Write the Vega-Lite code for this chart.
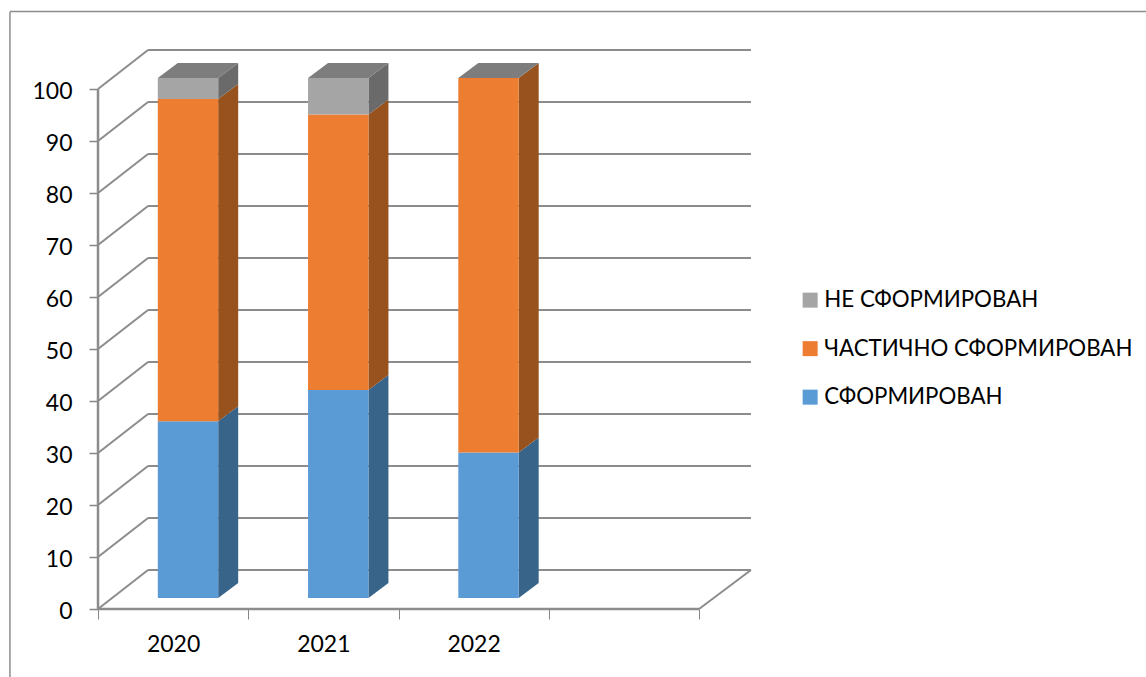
{
"$schema":"https://vega.github.io/schema/vega-lite/v6.json",
"width":653,"height":559,
"autosize":{"type":"none"},
"padding":{"left":98,"top":50,"right":395,"bottom":68},
"background":"white",
"config":{"view":{"stroke":null},"font":"Lato"},
"datasets":{
"bars":[
{"year":2020,"status":"СФОРМИРОВАН","rank":1,"value":34},
{"year":2020,"status":"ЧАСТИЧНО СФОРМИРОВАН","rank":2,"value":62},
{"year":2020,"status":"НЕ СФОРМИРОВАН","rank":3,"value":4},
{"year":2021,"status":"СФОРМИРОВАН","rank":1,"value":40},
{"year":2021,"status":"ЧАСТИЧНО СФОРМИРОВАН","rank":2,"value":53},
{"year":2021,"status":"НЕ СФОРМИРОВАН","rank":3,"value":7},
{"year":2022,"status":"СФОРМИРОВАН","rank":1,"value":28},
{"year":2022,"status":"ЧАСТИЧНО СФОРМИРОВАН","rank":2,"value":72},
{"year":2022,"status":"НЕ СФОРМИРОВАН","rank":3,"value":0}
],
"ticks":[{"tick":0},{"tick":10},{"tick":20},{"tick":30},{"tick":40},{"tick":50},{"tick":60},{"tick":70},{"tick":80},{"tick":90},{"tick":100}],
"one":[{"n":1}]
},
"resolve":{"axis":{"x":"independent","y":"independent"},"scale":{"color":"independent"}},
"layer":[
{"data":{"name":"one"},"mark":{"type":"rule","stroke":"#8c8c8c","strokeWidth":1.5},
 "encoding":{"x":{"datum":-0.586,"type":"quantitative","scale":{"domain":[0,4.346],"nice":false,"zero":false},"axis":{"orient":"bottom","values":[0,1,2,3,4],"labels":false,"title":null,"domain":false,"grid":false,"ticks":true,"tickSize":10,"tickColor":"#868686","tickWidth":1}},
 "y":{"datum":114.8,"type":"quantitative","scale":{"domain":[0,107.5],"nice":false,"zero":false},"axis":{"orient":"left","values":[0,10,20,30,40,50,60,70,80,90,100],"title":null,"domain":false,"grid":false,"tickSize":9,"tickColor":"#868686","tickWidth":1.5,"labelPadding":17,"labelOffset":2,"labelFontSize":23,"labelColor":"#000000","labelFont":"Lato","labelOverlap":false}},
 "y2":{"datum":-13.1}}},
{"data":{"name":"one"},"mark":{"type":"rule","stroke":"#8c8c8c","strokeWidth":1.5},
 "encoding":{"x":{"datum":-0.586,"type":"quantitative","axis":{"orient":"bottom","values":[0.5,1.5,2.5],"labelExpr":"format(2019.5+datum.value,'d')","title":null,"domain":false,"grid":false,"ticks":false,"labelPadding":24,"labelFontSize":23,"labelColor":"#000000","labelFont":"Lato","labelOverlap":false}},"x2":{"datum":6.975},"y":{"datum":114.9,"type":"quantitative","axis":null}}},
{"data":{"name":"ticks"},"transform":[{"calculate":"datum.tick+7.5","as":"back"}],"mark":{"type":"rule","stroke":"#8c8c8c","strokeWidth":2},
 "encoding":{"x":{"datum":0,"type":"quantitative","axis":null},"x2":{"datum":0.333},"y":{"field":"tick","type":"quantitative","axis":null},"y2":{"field":"back"}}},
{"data":{"name":"ticks"},"transform":[{"calculate":"datum.tick+7.5","as":"back"}],"mark":{"type":"rule","stroke":"#8c8c8c","strokeWidth":2},
 "encoding":{"x":{"datum":0.333,"type":"quantitative","axis":null},"x2":{"datum":4.346},"y":{"field":"back","type":"quantitative","axis":null}}},
{"data":{"name":"one"},"mark":{"type":"rule","stroke":"#8c8c8c","strokeWidth":2.5},
 "encoding":{"x":{"datum":0,"type":"quantitative","axis":null},"y":{"datum":0,"type":"quantitative","axis":null},"y2":{"datum":100}}},
{"data":{"name":"one"},"mark":{"type":"rule","stroke":"#8c8c8c","strokeWidth":2.5},
 "encoding":{"x":{"datum":0,"type":"quantitative","axis":null},"x2":{"datum":4},"y":{"datum":0,"type":"quantitative","axis":null}}},
{"data":{"name":"one"},"mark":{"type":"rule","stroke":"#8c8c8c","strokeWidth":2},
 "encoding":{"x":{"datum":4,"type":"quantitative","axis":null},"x2":{"datum":4.346},"y":{"datum":0,"type":"quantitative","axis":null},"y2":{"datum":7.5}}},
{"data":{"name":"bars"},
 "transform":[
  {"stack":"value","groupby":["year"],"sort":[{"field":"rank","order":"ascending"}],"as":["s0","s1"]},
  {"calculate":"datum.s0+2.1","as":"lo"},{"calculate":"datum.s1+2.1","as":"hi"},
  {"calculate":"datum.year-2020+0.8","as":"front"},
  {"calculate":"datum.front+0.133","as":"back"},
  {"fold":["front","back"],"as":["edge","xpos"]},
  {"calculate":"datum.edge=='back'?datum.lo+2.88:datum.lo","as":"ya"},
  {"calculate":"datum.edge=='back'?datum.hi+2.88:datum.hi","as":"yb"}
 ],
 "mark":{"type":"area","interpolate":"linear"},
 "encoding":{"x":{"field":"xpos","type":"quantitative","axis":null},"y":{"field":"ya","type":"quantitative","axis":null},"y2":{"field":"yb"},
  "detail":{"field":"year"},
  "color":{"field":"status","type":"nominal","legend":null,"scale":{"domain":["НЕ СФОРМИРОВАН","ЧАСТИЧНО СФОРМИРОВАН","СФОРМИРОВАН"],"range":["#6a6a6a","#97521d","#38648a"]}}}},
{"data":{"name":"bars"},
 "transform":[
  {"stack":"value","groupby":["year"],"sort":[{"field":"rank","order":"ascending"}],"as":["s0","s1"]},
  {"filter":"datum.rank==3"},
  {"calculate":"datum.s1+2.1","as":"top"},
  {"calculate":"datum.year-2020+0.398","as":"p1"},
  {"calculate":"datum.p1+0.133","as":"p2"},
  {"calculate":"datum.p1+0.402","as":"p3"},
  {"calculate":"datum.p3+0.133","as":"p4"},
  {"fold":["p1","p2","p3","p4"],"as":["corner","xpos"]},
  {"calculate":"datum.corner=='p1'?datum.top:datum.top+2.88","as":"ya"},
  {"calculate":"datum.corner=='p4'?datum.top+2.88:datum.top","as":"yb"}
 ],
 "mark":{"type":"area","interpolate":"linear","color":"#7d7d7d"},
 "encoding":{"x":{"field":"xpos","type":"quantitative","axis":null},"y":{"field":"ya","type":"quantitative","axis":null},"y2":{"field":"yb"},"detail":{"field":"year"}}},
{"data":{"name":"bars"},
 "transform":[
  {"stack":"value","groupby":["year"],"sort":[{"field":"rank","order":"ascending"}],"as":["s0","s1"]},
  {"calculate":"datum.s0+2.1","as":"lo"},{"calculate":"datum.s1+2.1","as":"hi"},
  {"calculate":"datum.year-2020+0.398","as":"left"},
  {"calculate":"datum.left+0.402","as":"right"}
 ],
 "mark":{"type":"rect"},
 "encoding":{"x":{"field":"left","type":"quantitative","axis":null},"x2":{"field":"right"},"y":{"field":"lo","type":"quantitative","axis":null},"y2":{"field":"hi"},
  "color":{"field":"status","type":"nominal","scale":{"domain":["НЕ СФОРМИРОВАН","ЧАСТИЧНО СФОРМИРОВАН","СФОРМИРОВАН"],"range":["#a5a5a5","#ed7d31","#5b9bd5"]},
   "legend":{"title":null,"orient":"none","legendX":701,"legendY":239,"symbolType":"square","symbolSize":225,"symbolStrokeWidth":0,"symbolOpacity":1,"labelFontSize":22.3,"labelFont":"Lato","labelColor":"#000000","labelLimit":400,"rowPadding":25.5,"labelOffset":3,"padding":0}}}}
]
}
